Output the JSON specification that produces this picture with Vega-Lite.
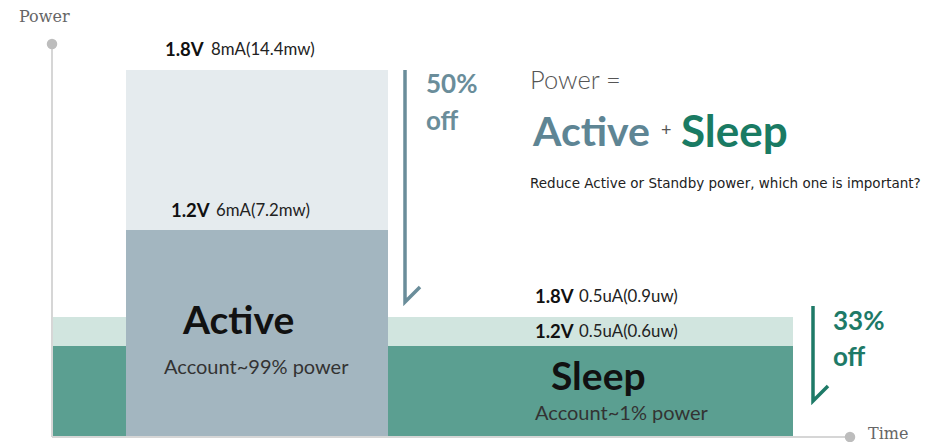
{
  "$schema": "https://vega.github.io/schema/vega-lite/v6.json",
  "width": 882,
  "height": 417,
  "autosize": {"type": "none"},
  "padding": {"left": 52, "top": 20, "right": 0, "bottom": 5},
  "background": "white",
  "config": {"view": {"stroke": null}},
  "resolve": {"scale": {"color": "independent"}},
  "datasets": {
    "bars": [
      {"part": "Sleep 1.8V", "t0": 0, "t1": 741, "p0": 0, "p1": 120},
      {"part": "Sleep 1.2V", "t0": 0, "t1": 741, "p0": 0, "p1": 91},
      {"part": "Active 1.8V", "t0": 74, "t1": 336, "p0": 0, "p1": 367},
      {"part": "Active 1.2V", "t0": 74, "t1": 336, "p0": 0, "p1": 207}
    ],
    "axes": [
      {"t0": 0, "t1": 0, "p0": 0, "p1": 393},
      {"t0": 0, "t1": 798, "p0": 0, "p1": 0}
    ],
    "ends": [
      {"t": 0, "p": 393},
      {"t": 798, "p": 0}
    ],
    "arrows": [
      {"arrow": "Active", "i": 1, "t": 353, "p": 367},
      {"arrow": "Active", "i": 2, "t": 353, "p": 135},
      {"arrow": "Active", "i": 3, "t": 368, "p": 150},
      {"arrow": "Sleep", "i": 1, "t": 761, "p": 131},
      {"arrow": "Sleep", "i": 2, "t": 761, "p": 36},
      {"arrow": "Sleep", "i": 3, "t": 776, "p": 51}
    ],
    "labels": [
      {"kind": "axis", "t": -33, "p": 420, "text": "Power"},
      {"kind": "axis", "t": 816, "p": 3, "text": "Time"},
      {"kind": "volt", "t": 113, "p": 387, "text": "1.8V"},
      {"kind": "cur", "t": 159, "p": 387, "text": "8mA(14.4mw)"},
      {"kind": "volt", "t": 119, "p": 226, "text": "1.2V"},
      {"kind": "cur", "t": 164, "p": 226, "text": "6mA(7.2mw)"},
      {"kind": "volt", "t": 483, "p": 140, "text": "1.8V"},
      {"kind": "cur", "t": 527, "p": 140, "text": "0.5uA(0.9uw)"},
      {"kind": "volt", "t": 483, "p": 105, "text": "1.2V"},
      {"kind": "cur", "t": 527, "p": 105, "text": "0.5uA(0.6uw)"},
      {"kind": "state", "t": 131, "p": 115, "text": "Active"},
      {"kind": "state", "t": 499, "p": 59, "text": "Sleep"},
      {"kind": "share", "t": 112, "p": 69, "text": "Account~99% power"},
      {"kind": "share", "t": 483, "p": 23, "text": "Account~1% power"},
      {"kind": "cutA", "t": 374, "p": 352, "text": "50%"},
      {"kind": "cutA", "t": 374, "p": 315, "text": "off"},
      {"kind": "cutS", "t": 781, "p": 115, "text": "33%"},
      {"kind": "cutS", "t": 781, "p": 79, "text": "off"},
      {"kind": "eq", "t": 478, "p": 356, "text": "Power ="},
      {"kind": "titleA", "t": 481, "p": 303, "text": "Active"},
      {"kind": "plus", "t": 609, "p": 306, "text": "+"},
      {"kind": "titleS", "t": 629, "p": 303, "text": "Sleep"},
      {"kind": "note", "t": 478, "p": 253, "text": "Reduce Active or Standby power, which one is important?"}
    ]
  },
  "encoding": {
    "x": {"field": "t", "type": "quantitative", "scale": {"domain": [0, 882], "nice": false, "zero": false}, "axis": null},
    "y": {"field": "p", "type": "quantitative", "scale": {"domain": [0, 417], "nice": false, "zero": false}, "axis": null}
  },
  "layer": [
    {
      "data": {"name": "bars"},
      "mark": {"type": "rect"},
      "encoding": {
        "x": {"field": "t0", "type": "quantitative"},
        "x2": {"field": "t1"},
        "y": {"field": "p0", "type": "quantitative"},
        "y2": {"field": "p1"},
        "color": {"field": "part", "type": "nominal", "legend": null,
          "scale": {"domain": ["Sleep 1.8V", "Sleep 1.2V", "Active 1.8V", "Active 1.2V"],
                    "range": ["#D1E5DF", "#5B9F91", "#E5EBEE", "#A3B6C0"]}}
      }
    },
    {
      "data": {"name": "axes"},
      "mark": {"type": "rule", "color": "#D6D6D6", "strokeWidth": 2},
      "encoding": {
        "x": {"field": "t0", "type": "quantitative"},
        "x2": {"field": "t1"},
        "y": {"field": "p0", "type": "quantitative"},
        "y2": {"field": "p1"}
      }
    },
    {
      "data": {"name": "ends"},
      "mark": {"type": "circle", "color": "#BDBDBD", "opacity": 1, "size": 110}
    },
    {
      "data": {"name": "arrows"},
      "mark": {"type": "line", "strokeWidth": 3.5, "strokeJoin": "miter"},
      "encoding": {
        "order": {"field": "i", "type": "quantitative"},
        "detail": {"field": "arrow"},
        "color": {"field": "arrow", "type": "nominal", "legend": null,
          "scale": {"domain": ["Active", "Sleep"], "range": ["#6A8D9A", "#1E7A67"]}}
      }
    },
    {
      "data": {"name": "labels"},
      "transform": [{"filter": "datum.kind === 'axis'"}],
      "mark": {"type": "text", "align": "left", "baseline": "middle", "font": "DejaVu Serif", "fontSize": 16, "color": "#666666"},
      "encoding": {"text": {"field": "text"}}
    },
    {
      "data": {"name": "labels"},
      "transform": [{"filter": "datum.kind === 'volt'"}],
      "mark": {"type": "text", "align": "left", "baseline": "middle", "font": "Lato", "fontWeight": "bold", "fontSize": 18.5, "color": "#111111"},
      "encoding": {"text": {"field": "text"}}
    },
    {
      "data": {"name": "labels"},
      "transform": [{"filter": "datum.kind === 'cur'"}],
      "mark": {"type": "text", "align": "left", "baseline": "middle", "font": "Lato", "fontSize": 16.8, "color": "#222222"},
      "encoding": {"text": {"field": "text"}}
    },
    {
      "data": {"name": "labels"},
      "transform": [{"filter": "datum.kind === 'state'"}],
      "mark": {"type": "text", "align": "left", "baseline": "middle", "font": "Lato", "fontWeight": "bold", "fontSize": 39, "color": "#111111"},
      "encoding": {"text": {"field": "text"}}
    },
    {
      "data": {"name": "labels"},
      "transform": [{"filter": "datum.kind === 'share'"}],
      "mark": {"type": "text", "align": "left", "baseline": "middle", "font": "Lato", "fontSize": 20, "color": "#333333"},
      "encoding": {"text": {"field": "text"}}
    },
    {
      "data": {"name": "labels"},
      "transform": [{"filter": "datum.kind === 'cutA'"}],
      "mark": {"type": "text", "align": "left", "baseline": "middle", "font": "Lato", "fontWeight": "bold", "fontSize": 26, "color": "#6A8D9A"},
      "encoding": {"text": {"field": "text"}}
    },
    {
      "data": {"name": "labels"},
      "transform": [{"filter": "datum.kind === 'cutS'"}],
      "mark": {"type": "text", "align": "left", "baseline": "middle", "font": "Lato", "fontWeight": "bold", "fontSize": 26, "color": "#1E7A67"},
      "encoding": {"text": {"field": "text"}}
    },
    {
      "data": {"name": "labels"},
      "transform": [{"filter": "datum.kind === 'eq'"}],
      "mark": {"type": "text", "align": "left", "baseline": "middle", "font": "Lato", "fontWeight": 300, "fontSize": 25.5, "color": "#555555"},
      "encoding": {"text": {"field": "text"}}
    },
    {
      "data": {"name": "labels"},
      "transform": [{"filter": "datum.kind === 'titleA'"}],
      "mark": {"type": "text", "align": "left", "baseline": "middle", "font": "Lato", "fontWeight": "bold", "fontSize": 41, "color": "#5E8594"},
      "encoding": {"text": {"field": "text"}}
    },
    {
      "data": {"name": "labels"},
      "transform": [{"filter": "datum.kind === 'plus'"}],
      "mark": {"type": "text", "align": "left", "baseline": "middle", "font": "Lato", "fontSize": 18, "color": "#555555"},
      "encoding": {"text": {"field": "text"}}
    },
    {
      "data": {"name": "labels"},
      "transform": [{"filter": "datum.kind === 'titleS'"}],
      "mark": {"type": "text", "align": "left", "baseline": "middle", "font": "Lato", "fontWeight": "bold", "fontSize": 44, "color": "#1A7B63"},
      "encoding": {"text": {"field": "text"}}
    },
    {
      "data": {"name": "labels"},
      "transform": [{"filter": "datum.kind === 'note'"}],
      "mark": {"type": "text", "align": "left", "baseline": "middle", "font": "DejaVu Sans", "fontSize": 13.5, "color": "#222222"},
      "encoding": {"text": {"field": "text"}}
    }
  ]
}
